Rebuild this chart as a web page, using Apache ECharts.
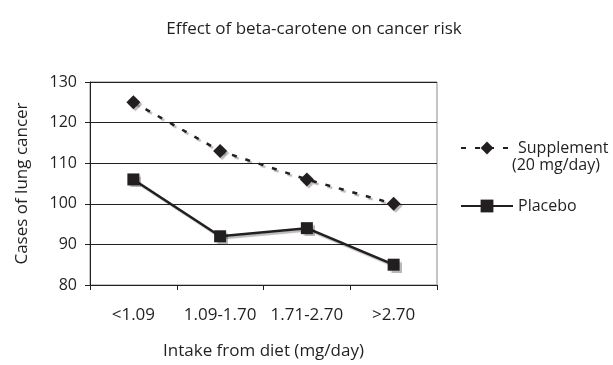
<!DOCTYPE html>
<html>
<head>
<meta charset="utf-8">
<script src="https://cdn.jsdelivr.net/npm/echarts@6/dist/echarts.min.js"></script>
<style>
  html, body { margin: 0; padding: 0; background: #fff; }
  #chart { width: 613px; height: 365px; }
</style>
</head>
<body>
<div id="chart"></div>
<script>
// Intake groups and lung cancer case counts
const categories = ['<1.09', '1.09-1.70', '1.71-2.70', '>2.70'];
const supplement = [125, 113, 106, 100];
const placebo = [106, 92, 94, 85];
const yTicks = { min: 80, max: 130, interval: 10 };

const FONT = '"Open Sans", "Noto Sans", sans-serif';
const INK = '#231f20';
const shadow = { shadowColor: 'rgba(0,0,0,0.28)', shadowOffsetX: 2, shadowOffsetY: 2, shadowBlur: 1 };

const chart = echarts.init(document.getElementById('chart'));
chart.setOption({
  animation: false,
  backgroundColor: '#fff',
  textStyle: { fontFamily: FONT },
  title: {
    text: 'Effect of beta-carotene on cancer risk',
    left: 309, top: 16, textAlign: 'center',
    textStyle: { fontFamily: FONT, fontSize: 17, fontWeight: 'normal', color: INK }
  },
  grid: {
    left: 90, right: 176, top: 82, bottom: 79,
    show: true, borderColor: '#8a8a8a', borderWidth: 1
  },
  legend: {
    orient: 'vertical', left: 455, top: 135,
    itemWidth: 52, itemHeight: 16, itemGap: 42,
    textStyle: { fontFamily: FONT, fontSize: 16, color: INK },
    data: ['Supplement', 'Placebo']
  },
  graphic: [{
    type: 'text', left: 512, top: 157,
    style: { text: '(20 mg/day)', font: '16px ' + FONT, fill: INK }
  }],
  xAxis: {
    type: 'category', data: categories, boundaryGap: true,
    name: 'Intake from diet (mg/day)', nameLocation: 'middle', nameGap: 58,
    nameTextStyle: { fontSize: 17, color: INK },
    axisLine: { lineStyle: { color: INK, width: 1 } },
    axisTick: { show: true, length: 5, inside: false, lineStyle: { color: INK } },
    axisLabel: { fontSize: 17, color: INK, margin: 22, interval: 0, hideOverlap: false }
  },
  yAxis: {
    type: 'value', min: yTicks.min, max: yTicks.max, interval: yTicks.interval,
    name: 'Cases of lung cancer', nameLocation: 'middle', nameGap: 59,
    nameTextStyle: { fontSize: 17, color: INK },
    axisLine: { show: true, lineStyle: { color: INK, width: 1 } },
    axisTick: { show: true, length: 5, lineStyle: { color: INK } },
    axisLabel: { fontSize: 16, color: INK, margin: 13 },
    splitLine: { show: true, lineStyle: { color: INK, width: 1 } }
  },
  series: [
    {
      name: 'Supplement', type: 'line', data: supplement,
      symbol: 'diamond', symbolSize: 14,
      lineStyle: Object.assign({ color: INK, width: 2.5, type: [5, 9] }, shadow),
      itemStyle: Object.assign({ color: INK }, shadow)
    },
    {
      name: 'Placebo', type: 'line', data: placebo,
      symbol: 'rect', symbolSize: 12,
      lineStyle: Object.assign({ color: INK, width: 2.5 }, shadow),
      itemStyle: Object.assign({ color: INK }, shadow)
    }
  ]
});
</script>
</body>
</html>
